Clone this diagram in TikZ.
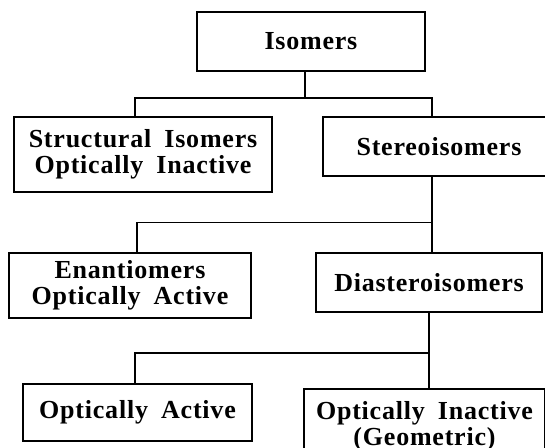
\documentclass[tikz,border=0pt]{standalone}
\usepackage{fontspec}
\setmainfont[WordSpace=1.8,LetterSpace=3]{Liberation Serif}
\usepackage{tikz}
\usetikzlibrary{positioning}

\begin{document}
\begin{tikzpicture}[
    x=1pt, y=-1pt,
    box/.style={draw, line width=1.6pt, align=center, inner sep=0pt,
        font=\fontsize{26}{26}\selectfont\bfseries},
    link/.style={line width=1.6pt}
]
\useasboundingbox (0,0) rectangle (545,447);
\clip (0,0) rectangle (545,447);

\node [box, minimum width=228pt, minimum height=59pt] (iso) at (311,41.5) {Isomers};
\node [box, minimum width=258pt, minimum height=75pt] (struct) at (143,154.5)
    {Structural Isomers\\Optically Inactive};
\node [box, minimum width=232pt, minimum height=59pt] (stereo) at (439,146.5) {Stereoisomers};
\node [box, minimum width=242pt, minimum height=65pt] (enan) at (130,285.5)
    {Enantiomers\\Optically Active};
\node [box, minimum width=226pt, minimum height=59pt] (dia) at (429,282.5) {Diasteroisomers};
\node [box, minimum width=229pt, minimum height=57pt] (act) at (137.5,412.5) {Optically Active};
\node [box, minimum width=241pt, minimum height=74pt] (inact) at (424.5,426)
    {Optically Inactive\\(Geometric)};

% joints
\coordinate (j1) at (305,98);
\coordinate (l1) at (135,98);
\coordinate (r1) at (432,98);
\coordinate (l2) at (137,222.5);
\coordinate (r2) at (432,222.5);
\coordinate (l3) at (135,353);
\coordinate (r3) at (429,353);

\draw[link] (j1 |- iso.south) -- (j1);
\draw[link] (l1 |- struct.north) -- (l1) -- (r1) -- (r1 |- stereo.north);
\draw[link] (r2 |- stereo.south) -- (r2) -- (l2) -- (l2 |- enan.north);
\draw[link] (r2) -- (r2 |- dia.north);
\draw[link] (r3 |- dia.south) -- (r3) -- (l3) -- (l3 |- act.north);
\draw[link] (r3) -- (r3 |- inact.north);
\end{tikzpicture}
\end{document}
